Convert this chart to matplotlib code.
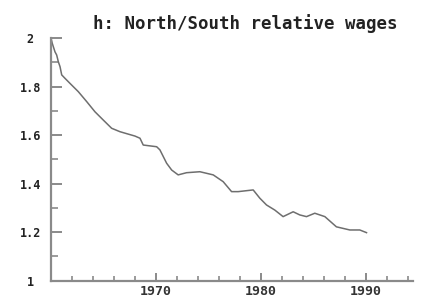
import matplotlib
matplotlib.use("Agg")
import matplotlib.pyplot as plt
from matplotlib.ticker import MultipleLocator, FixedLocator

years = [1960.0, 1960.12, 1960.38, 1960.54, 1960.70, 1960.86, 1961.02, 1961.33, 1961.81,
         1962.6, 1963.4, 1964.19, 1964.98, 1965.78, 1966.57, 1967.36, 1968.0, 1968.48,
         1968.79, 1970.07, 1970.38, 1971.02, 1971.5, 1972.12, 1972.92, 1974.19, 1975.46,
         1976.41, 1977.21, 1977.84, 1979.27, 1979.9, 1980.54, 1981.33, 1982.12, 1983.08,
         1983.71, 1984.35, 1985.14, 1986.1, 1987.2, 1988.48, 1989.43, 1990.07]
wages = [2.0, 1.978, 1.943, 1.930, 1.902, 1.882, 1.848, 1.834, 1.813,
         1.779, 1.738, 1.696, 1.662, 1.628, 1.614, 1.604, 1.596, 1.587,
         1.559, 1.552, 1.539, 1.484, 1.456, 1.436, 1.445, 1.449, 1.436,
         1.408, 1.367, 1.367, 1.374, 1.340, 1.312, 1.291, 1.264, 1.284,
         1.271, 1.264, 1.278, 1.264, 1.222, 1.209, 1.209, 1.198]
title = "h: North/South relative wages"
ytick_vals = [1, 1.2, 1.4, 1.6, 1.8, 2]
ytick_labels = ["1", "1.2", "1.4", "1.6", "1.8", "2"]
xtick_vals = [1970, 1980, 1990]
xtick_labels = ["1970", "1980", "1990"]

W, H = 422, 299
fig = plt.figure(figsize=(W / 100, H / 100), dpi=100)
ax = fig.add_axes([51 / W, 1 - 280.7 / H, (413 - 51) / W, (280.7 - 38) / H])

axcol = "#8a8a8a"
ax.plot(years, wages, color="#6e6e6e", lw=1.1)
ax.set_xlim(1960, 1994.5)
ax.set_ylim(1, 2)

for s in ["top", "right"]:
    ax.spines[s].set_visible(False)
for s in ["left", "bottom"]:
    ax.spines[s].set_color(axcol)
    ax.spines[s].set_linewidth(1.6)

ax.yaxis.set_major_locator(FixedLocator(ytick_vals))
ax.yaxis.set_minor_locator(MultipleLocator(0.1))
ax.xaxis.set_major_locator(FixedLocator(xtick_vals))
ax.xaxis.set_minor_locator(MultipleLocator(2))

ax.set_yticklabels(ytick_labels)
ax.set_xticklabels(xtick_labels)

for lab in ax.get_yticklabels():
    lab.set_fontfamily("DejaVu Sans Mono")
    lab.set_fontweight("bold")
    lab.set_fontsize(8.5)
    lab.set_color("#222222")
    lab.set_horizontalalignment("center")
for lab in ax.get_xticklabels():
    lab.set_fontfamily("DejaVu Sans Mono")
    lab.set_fontweight("bold")
    lab.set_fontsize(9.5)
    lab.set_color("#333333")

ax.tick_params(axis="y", which="major", direction="in", length=8, width=1.4, color=axcol, pad=15)
ax.tick_params(axis="y", which="minor", direction="in", length=5, width=1.2, color=axcol)
ax.tick_params(axis="x", which="major", direction="in", length=6, width=1.4, color=axcol, pad=3)
ax.tick_params(axis="x", which="minor", direction="in", length=3.5, width=1.2, color=axcol)

fig.text(245 / W, 1 - 24 / H, title, ha="center", va="center",
         fontfamily="DejaVu Sans Mono", fontweight="bold", fontsize=12.5, color="#222222")

fig.savefig("out.png", dpi=100)
